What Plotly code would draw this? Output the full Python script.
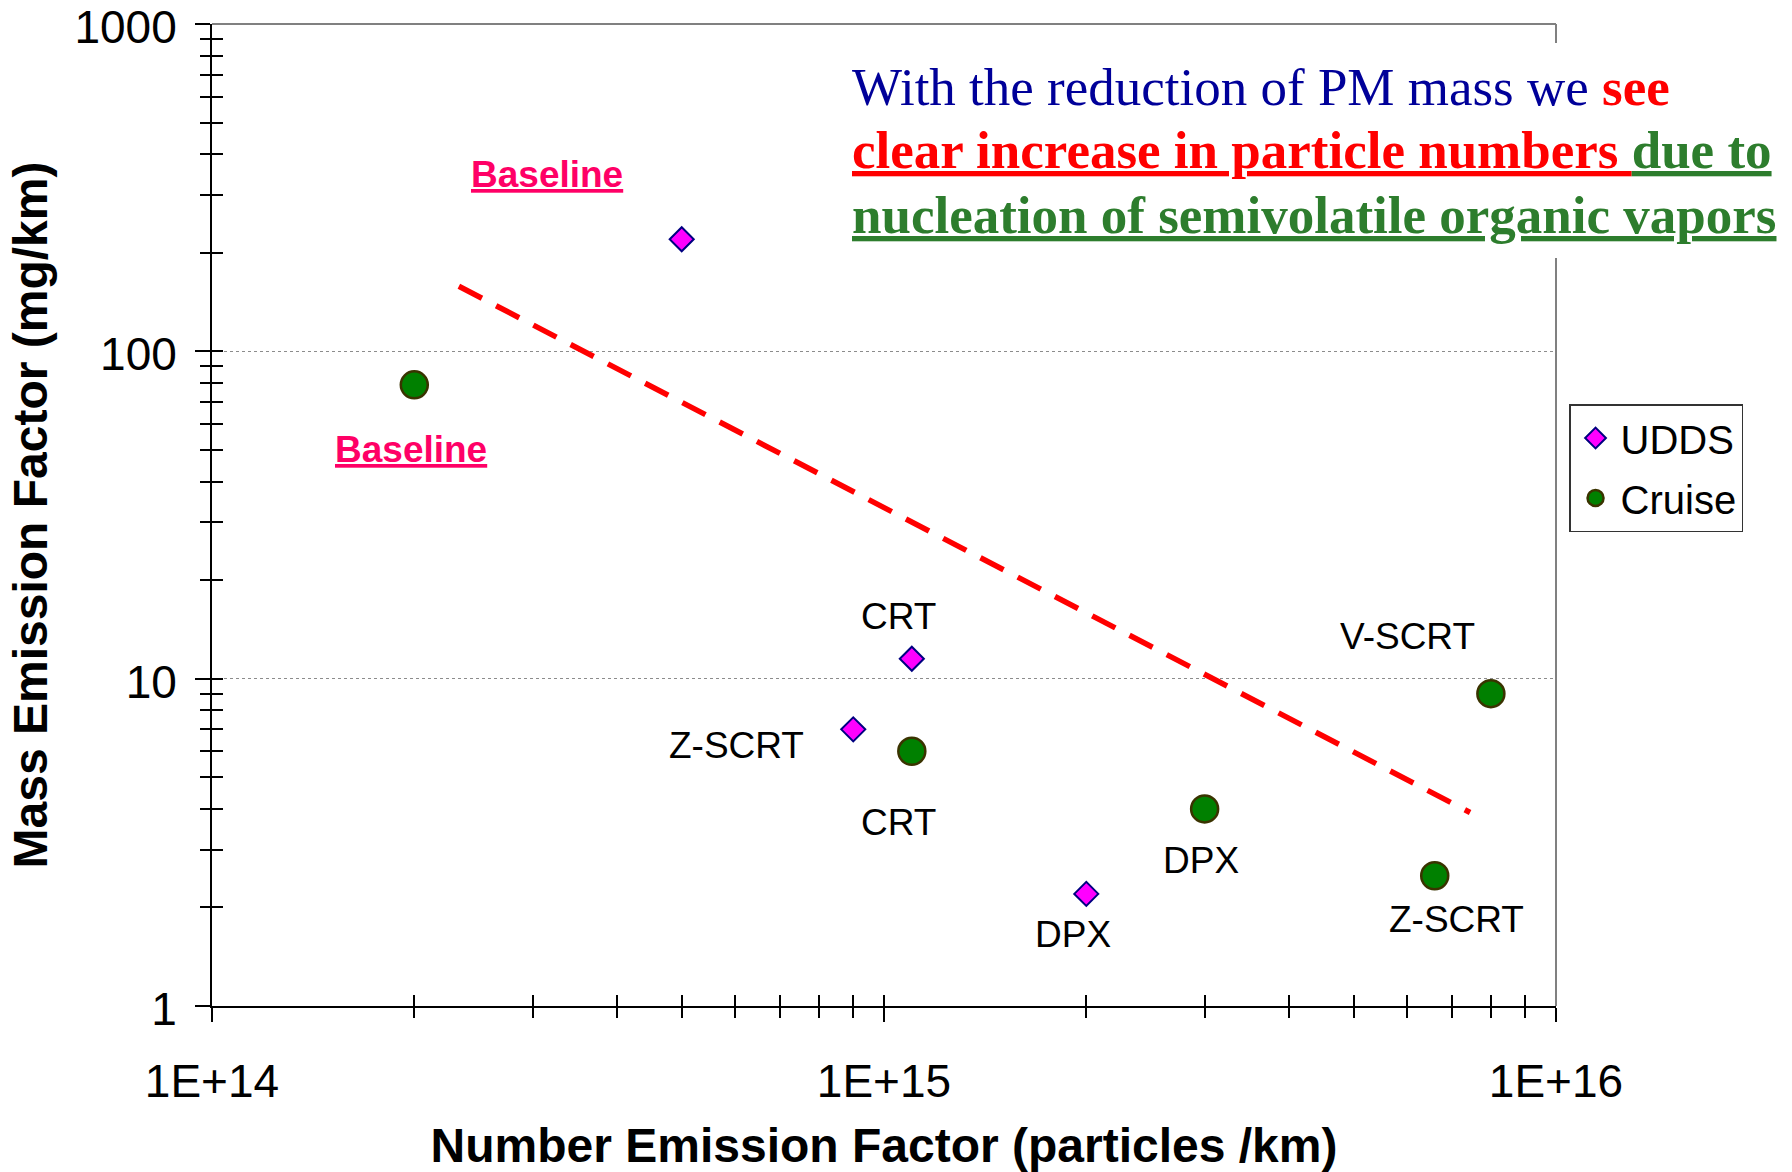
import numpy as np
import plotly.graph_objects as go

# ---- data -------------------------------------------------------------
udds_labels = ["Baseline", "CRT", "Z-SCRT", "DPX"]
udds_x = [5.0e14, 1.1e15, 9.0e14, 2.0e15]          # particles/km
udds_y = [220.0, 11.5, 7.0, 2.2]                     # mg/km

cruise_labels = ["Baseline", "CRT", "DPX", "Z-SCRT", "V-SCRT"]
cruise_x = [2.0e14, 1.1e15, 3.0e15, 6.6e15, 8.0e15]
cruise_y = [79.0, 6.0, 4.0, 2.5, 9.0]

# trend line end points (particles/km, mg/km)
trend_x = [2.33e14, 7.45e15]
trend_y = [158.0, 3.9]

x_tick_vals = [1e14, 1e15, 1e16]
x_tick_text = ["1E+14", "1E+15", "1E+16"]
y_tick_vals = [1, 10, 100, 1000]
y_tick_text = ["1", "10", "100", "1000"]

message_lines = [
    ("With the reduction of PM mass we ", "see"),
    ("clear increase in particle numbers ", "due to"),
    ("nucleation of semivolatile organic vapors", ""),
]

# ---- styling ----------------------------------------------------------
SANS = "Liberation Sans, Arial, sans-serif"
SERIF = "Liberation Serif, Times New Roman, serif"
NAVY = "#000099"
RED = "#FF0000"
GREEN = "#2D7D2D"
PINK = "#FF0066"
UL = "text-decoration:underline;text-decoration-thickness:3px"

x_minor = [m * 10 ** d for d in (14, 15) for m in range(2, 10)]
y_minor = [m * 10 ** d for d in (0, 1, 2) for m in range(2, 10)]

fig = go.Figure()

fig.add_trace(go.Scatter(
    x=trend_x, y=trend_y, mode="lines",
    line=dict(color=RED, width=5.5, dash="26px,16px"),
    showlegend=False, hoverinfo="skip",
))

fig.add_trace(go.Scatter(
    x=udds_x, y=udds_y, mode="markers", name="UDDS", legendgroup="udds",
    marker=dict(symbol="diamond", size=18.5, color="#FF00FF",
                line=dict(color="#000080", width=2)),
))
fig.add_trace(go.Scatter(
    x=cruise_x, y=cruise_y, mode="markers", name="Cruise", legendgroup="cruise",
    marker=dict(symbol="circle", size=27, color="#008000",
                line=dict(color="#3A3300", width=2.5)),
))

# empty trace that carries the overlaid axes (inner half of the tick marks)
fig.add_trace(go.Scatter(x=[], y=[], xaxis="x2", yaxis="y2",
                         showlegend=False, hoverinfo="skip"))

# ---- point labels (pixel offsets from each point) ---------------------
udds_offsets = {"Baseline": (-135, 65), "CRT": (-13, 42), "Z-SCRT": (-117, -16),
                "DPX": (-13, -41)}
cruise_offsets = {"Baseline": (-3, -65), "CRT": (-13, -71), "DPX": (-4, -52),
                  "Z-SCRT": (22, -44), "V-SCRT": (-83, 57)}

annotations = []


def add_labels(labels, xs, ys, offsets):
    for lab, xv, yv in zip(labels, xs, ys):
        dx, dy = offsets[lab]
        if lab == "Baseline":
            text = f"<b><span style='{UL}'>{lab}</span></b>"
            font = dict(family=SANS, size=37, color=PINK)
        else:
            text = lab
            font = dict(family=SANS, size=37, color="black")
        annotations.append(dict(
            x=np.log10(xv), y=np.log10(yv), xref="x", yref="y",
            text=text, showarrow=False, xshift=dx, yshift=dy,
            xanchor="center", yanchor="middle", font=font,
        ))


add_labels(udds_labels, udds_x, udds_y, udds_offsets)
add_labels(cruise_labels, cruise_x, cruise_y, cruise_offsets)

# ---- message text -----------------------------------------------------
line_texts = [
    f"<span style='color:{NAVY}'>{message_lines[0][0]}</span>"
    f"<span style='color:{RED}'><b>{message_lines[0][1]}</b></span>",
    f"<span style='color:{RED};{UL}'><b>{message_lines[1][0]}</b></span>"
    f"<span style='color:{GREEN};{UL}'><b>{message_lines[1][1]}</b></span>",
    f"<span style='color:{GREEN};{UL}'><b>{message_lines[2][0]}</b></span>",
]
line_y = [0.9357, 0.8713, 0.8059]
for t, yy in zip(line_texts, line_y):
    annotations.append(dict(
        x=0.4745, y=yy, xref="paper", yref="paper", text=t, showarrow=False,
        xanchor="left", yanchor="middle",
        font=dict(family=SERIF, size=53, color=NAVY),
    ))

shapes = [
    # top and right frame
    dict(type="line", xref="paper", yref="paper", x0=0, x1=1, y0=1, y1=1,
         line=dict(color="#808080", width=2), layer="above"),
    dict(type="line", xref="paper", yref="paper", x0=1, x1=1, y0=0, y1=1,
         line=dict(color="#808080", width=2), layer="above"),
    # white panel behind the message
    dict(type="rect", xref="paper", yref="paper", x0=0.4673, x1=1.18,
         y0=0.7617, y1=0.9807, fillcolor="white", line=dict(width=0),
         layer="above"),
]

tick_font = dict(family=SANS, size=46, color="black")
title_font = dict(family=SANS, size=48, color="black", weight="bold")

fig.update_layout(
    width=1792, height=1172,
    margin=dict(l=212, r=236, t=24, b=166, autoexpand=False),
    paper_bgcolor="white", plot_bgcolor="white",
    xaxis=dict(
        type="log", range=[14, 16], showline=True, linecolor="black",
        linewidth=2, ticks="outside", ticklen=14, tickwidth=1.5,
        tickcolor="black", tickvals=x_tick_vals, ticktext=x_tick_text,
        tickfont=tick_font, showgrid=False, zeroline=False,
        ticklabelstandoff=20, ticklabeloverflow="allow",
        minor=dict(ticks="outside", ticklen=10, tickwidth=1.5,
                   tickcolor="black", tickvals=x_minor, showgrid=False),
        title=dict(text="Number Emission Factor (particles /km)",
                   font=title_font, standoff=23),
    ),
    yaxis=dict(
        type="log", range=[0, 3], showline=True, linecolor="black",
        linewidth=2, ticks="outside", ticklen=15, tickwidth=1.5,
        tickcolor="black", tickvals=y_tick_vals, ticktext=y_tick_text,
        tickfont=tick_font, showgrid=True, gridcolor="#8c8c8c",
        griddash="dot", gridwidth=1, zeroline=False,
        ticklabelstandoff=9, ticklabeloverflow="allow", ticklabelshift=3,
        minor=dict(ticks="outside", ticklen=10, tickwidth=1.5,
                   tickcolor="black", tickvals=y_minor, showgrid=False),
        automargin=True,
        title=dict(text="Mass Emission Factor (mg/km)", font=title_font,
                   standoff=12),
    ),
    xaxis2=dict(
        type="log", range=[14, 16], overlaying="x", anchor="y2",
        showline=False, ticks="inside", ticklen=11, tickwidth=1.5,
        tickcolor="black", tickvals=x_tick_vals, showticklabels=False,
        showgrid=False, zeroline=False,
        minor=dict(ticks="inside", ticklen=11, tickwidth=1.5,
                   tickcolor="black", tickvals=x_minor, showgrid=False),
    ),
    yaxis2=dict(
        type="log", range=[0, 3], overlaying="y", anchor="x2",
        showline=False, ticks="inside", ticklen=11, tickwidth=1.5,
        tickcolor="black", tickvals=y_tick_vals, showticklabels=False,
        showgrid=False, zeroline=False,
        minor=dict(ticks="inside", ticklen=11, tickwidth=1.5,
                   tickcolor="black", tickvals=y_minor, showgrid=False),
    ),
    legend=dict(
        x=1.0097, y=0.613, xanchor="left", yanchor="top",
        font=dict(family=SANS, size=40, color="black"),
        bgcolor="white", bordercolor="#333333", borderwidth=1.5,
        tracegroupgap=5, itemsizing="trace", itemwidth=40,
    ),
    annotations=annotations,
    shapes=shapes,
    showlegend=True,
)

fig.write_html("out.html")
